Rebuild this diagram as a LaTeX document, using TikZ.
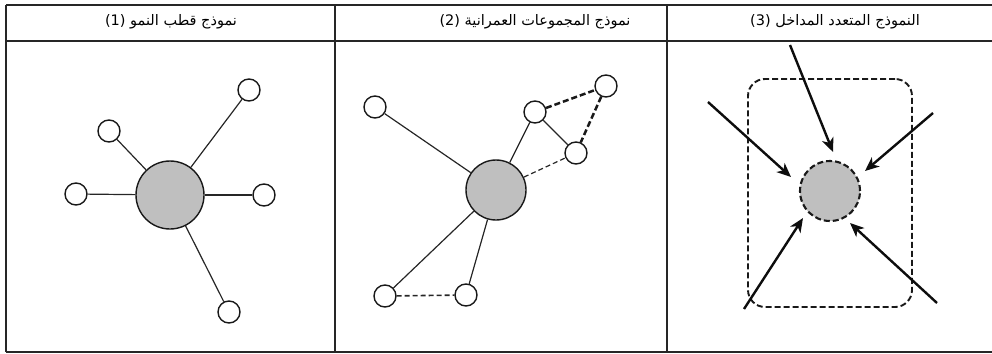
\documentclass[tikz,border=0pt]{standalone}
\usepackage{fontspec}
\newfontfamily\arabicfont[Script=Arabic]{DejaVu Sans}
\TeXXeTstate=1
\usetikzlibrary{arrows.meta}
\begin{document}
\begin{tikzpicture}[x=1pt,y=-1pt,
  frame/.style={line width=2.2pt,draw=black!85},
  title/.style={font=\arabicfont\fontsize{14.5}{17}\selectfont,inner sep=0pt,anchor=center},
  hub/.style={circle,draw=black!90,line width=1.4pt,fill=black!25,minimum size=#1,inner sep=0pt},
  sat/.style={circle,draw=black!90,line width=1.4pt,fill=white,minimum size=22pt,inner sep=0pt},
  link/.style={line width=1.2pt,draw=black!85},
  dlink/.style={line width=2.5pt,draw=black!90,dash pattern=on 6pt off 3pt},
  tlink/.style={line width=1.2pt,draw=black!85,dash pattern=on 5pt off 3pt},
  inarrow/.style={line width=2.4pt,draw=black!95,-{Stealth[length=14pt,width=12pt,inset=4pt]}},
]
\useasboundingbox (0,0) rectangle (992,353);
% table
\draw[frame] (6,5) -- (992,5);
\draw[frame] (6,41) -- (992,41);
\draw[frame] (6,352) -- (992,352);
\draw[frame] (6,5) -- (6,352);
\draw[frame] (335,5) -- (335,352);
\draw[frame] (667,5) -- (667,352);
% titles
\node[title] (t1) at (171,22) {\beginR نموذج قطب النمو \beginL(1)\endL\endR};
\node[title] (t2) at (535,22) {\beginR نموذج المجموعات العمرانية \beginL(2)\endL\endR};
\node[title] (t3) at (835,22) {\beginR النموذج المتعدد المداخل \beginL(3)\endL\endR};
% panel 1
\node[hub=68pt] (h1) at (170,195) {};
\node[sat] (l1) at (76,194) {};
\node[sat] (r1) at (264,195) {};
\node[sat] (ul1) at (109,131) {};
\node[sat] (ur1) at (249,90) {};
\node[sat] (b1) at (229,312) {};
\draw[link] (h1) -- (l1);
\draw[link] (h1) -- (r1);
\draw[link] (h1) -- (ul1);
\draw[link] (h1) -- (ur1);
\draw[link] (h1) -- (b1);
% panel 2
\node[hub=60pt] (h2) at (496,190) {};
\node[sat] (lt2) at (375,107) {};
\node[sat] (a2) at (535,112) {};
\node[sat] (b2) at (606,86) {};
\node[sat] (c2) at (576,153) {};
\node[sat] (bl2) at (385,296) {};
\node[sat] (bm2) at (466,295) {};
\draw[link] (h2) -- (lt2);
\draw[link] (h2) -- (a2);
\draw[link] (a2) -- (c2);
\draw[tlink] (h2) -- (c2);
\draw[dlink] (a2) -- (b2);
\draw[dlink] (b2) -- (c2);
\draw[link] (h2) -- (bl2);
\draw[link] (h2) -- (bm2);
\draw[tlink,line width=1.6pt] (bl2) -- (bm2);
% panel 3
\node[draw=black!90,line width=1.9pt,dash pattern=on 6pt off 3pt,rounded corners=17pt,minimum width=164pt,minimum height=228pt,inner sep=0pt] (box3) at (830,193) {};
\node[hub=60pt,dash pattern=on 6pt off 3pt,line width=2.1pt] (h3) at (830,191) {};
\coordinate (s1) at (790,45);
\coordinate (s2) at (708,102);
\coordinate (s3) at (933,113);
\coordinate (s4) at (744,309);
\coordinate (s5) at (937,303);
\coordinate (e1) at (833,152);
\coordinate (e2) at (791,177);
\coordinate (e3) at (865,171);
\coordinate (e4) at (803,218);
\coordinate (e5) at (850,223);
\draw[inarrow] (s1) -- (e1);
\draw[inarrow] (s2) -- (e2);
\draw[inarrow] (s3) -- (e3);
\draw[inarrow] (s4) -- (e4);
\draw[inarrow] (s5) -- (e5);
\end{tikzpicture}
\end{document}
